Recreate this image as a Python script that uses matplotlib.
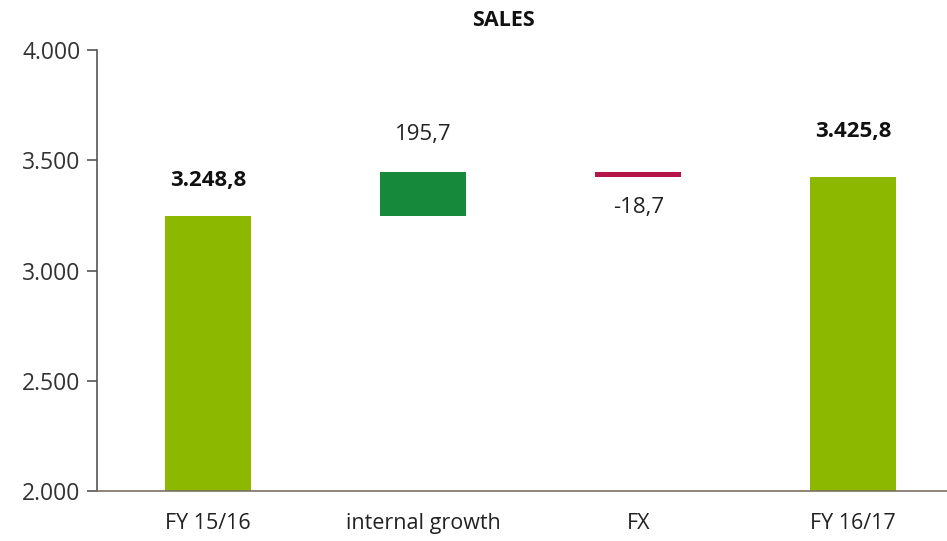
import matplotlib
matplotlib.use("Agg")
import matplotlib.pyplot as plt

categories = ["FY 15/16", "internal growth", "FX", "FY 16/17"]
values = [3248.8, 195.7, -18.7, 3425.8]
value_labels = ["3.248,8", "195,7", "-18,7", "3.425,8"]
yticks = [2000, 2500, 3000, 3500, 4000]
ytick_labels = ["2.000", "2.500", "3.000", "3.500", "4.000"]

plt.rcParams['font.family'] = ['Open Sans', 'DejaVu Sans']

fig = plt.figure(figsize=(9.47, 5.41), dpi=100)
ax = fig.add_axes([97/947, 1-491/541, 853/947, 441/541])

light = "#8cb800"
dark = "#168a3a"
red = "#b5164a"

# waterfall bases
base = [0, values[0], values[0] + values[1] + values[2], 0]
heights = [values[0], values[1], -values[2], values[3]]
colors = [light, dark, red, light]
width = 0.40

for i in range(4):
    ax.bar(i, heights[i], bottom=base[i], width=width,
           color=colors[i], edgecolor='none', zorder=2)

ax.text(0, values[0] + 160, value_labels[0], ha='center', va='center',
        fontsize=16, fontweight='bold', color='#111111')
ax.text(1, values[0] + values[1] + 172, value_labels[1], ha='center', va='center',
        fontsize=16, color='#222222')
ax.text(2, values[0] + values[1] + values[2] - 141, value_labels[2], ha='center', va='center',
        fontsize=16, color='#222222')
ax.text(3, values[3] + 204, value_labels[3], ha='center', va='center',
        fontsize=16, fontweight='bold', color='#111111')

ax.set_xlim(-0.517, 3.45)
ax.set_ylim(2000, 4000)
ax.set_yticks(yticks)
ax.set_yticklabels(ytick_labels)
ax.set_xticks(range(4))
ax.set_xticklabels(categories)

for s in ['top', 'right']:
    ax.spines[s].set_visible(False)
ax.spines['left'].set_color('#555555')
ax.spines['bottom'].set_color('#7a6f66')
ax.spines['left'].set_linewidth(1.2)
ax.spines['bottom'].set_linewidth(1.2)
ax.tick_params(axis='y', direction='out', length=7, width=1.2, color='#555555',
               labelsize=16.5, labelcolor='#333333', pad=5)
ax.tick_params(axis='x', length=0, labelsize=15.5, labelcolor='#222222', pad=16)

fig.text(503/947, 1-21/541, "SALES", ha='center', va='center', fontsize=15.5,
         fontweight='bold', color='#111111')

fig.savefig("out.png", dpi=100, facecolor='white')
